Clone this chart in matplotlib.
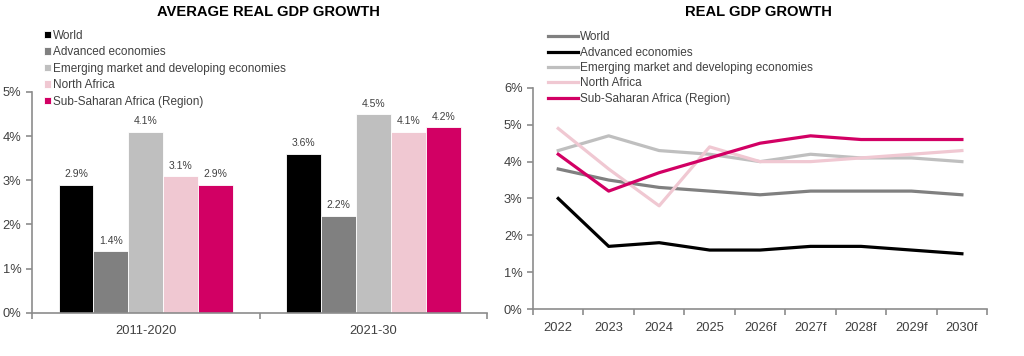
import numpy as np
import matplotlib.pyplot as plt

plt.rcParams['font.family'] = ['Liberation Sans', 'DejaVu Sans']

series = ['World', 'Advanced economies', 'Emerging market and developing economies',
          'North Africa', 'Sub-Saharan Africa (Region)']
bar_colors = ['#000000', '#808080', '#BFBFBF', '#F0C8D2', '#D20064']
line_colors = ['#808080', '#000000', '#BFBFBF', '#F0C8D2', '#D20064']

periods = ['2011-2020', '2021-30']
avg_growth = [
    [2.9, 3.6],
    [1.4, 2.2],
    [4.1, 4.5],
    [3.1, 4.1],
    [2.9, 4.2],
]

years = ['2022', '2023', '2024', '2025', '2026f', '2027f', '2028f', '2029f', '2030f']
world = [3.8, 3.5, 3.3, 3.2, 3.1, 3.2, 3.2, 3.2, 3.1]
advanced = [3.0, 1.7, 1.8, 1.6, 1.6, 1.7, 1.7, 1.6, 1.5]
emerging = [4.3, 4.7, 4.3, 4.2, 4.0, 4.2, 4.1, 4.1, 4.0]
north_africa = [4.9, 3.8, 2.8, 4.4, 4.0, 4.0, 4.1, 4.2, 4.3]
ssa = [4.2, 3.2, 3.7, 4.1, 4.5, 4.7, 4.6, 4.6, 4.6]
lines = [world, advanced, emerging, north_africa, ssa]

spine_col = '#8C8C8C'
text_col = '#404040'

fig = plt.figure(figsize=(10.24, 3.56), dpi=100)


def style_axes(ax):
    ax.spines['top'].set_visible(False)
    ax.spines['right'].set_visible(False)
    for s in ['left', 'bottom']:
        ax.spines[s].set_color(spine_col)
        ax.spines[s].set_linewidth(1.2)
    ax.tick_params(axis='y', colors=spine_col, labelcolor=text_col, labelsize=9.3,
                   length=4, width=1.2)
    ax.tick_params(axis='x', which='major', colors=spine_col, length=4, width=1.2)
    ax.tick_params(axis='x', which='minor', length=0, labelcolor=text_col, labelsize=9.3, pad=9)
    ax.yaxis.set_major_formatter(plt.FuncFormatter(lambda v, p: f'{v:.0f}%'))


# left: bar chart
ax1 = fig.add_axes([0.031, 0.121, 0.445, 0.621])
x = np.arange(len(periods))
w = 0.153
for i, (name, vals) in enumerate(zip(series, avg_growth)):
    pos = x + (i - 2) * w
    ax1.bar(pos, vals, w, color=bar_colors[i], edgecolor='white', linewidth=0.6, label=name)
    for px, v in zip(pos, vals):
        ax1.text(px, v + 0.12, f'{v:.1f}%', ha='center', va='bottom', fontsize=7.5, color=text_col)
ax1.set_xlim(-0.5, 1.5)
ax1.set_ylim(0, 5)
ax1.set_yticks(range(0, 6))
ax1.set_xticks([-0.5, 0.5, 1.5])
ax1.set_xticklabels([])
ax1.set_xticks(x, minor=True)
ax1.set_xticklabels(periods, minor=True)
style_axes(ax1)
fig.text(0.262, 0.965, 'AVERAGE REAL GDP GROWTH', ha='center', va='center',
         fontsize=10.6, fontweight='bold')
fig.legend(*ax1.get_legend_handles_labels(), loc='upper left', bbox_to_anchor=(0.038, 0.93),
           frameon=False, fontsize=8.5, handlelength=0.6, handleheight=0.6, handletextpad=0.2,
           labelspacing=0.38, borderaxespad=0, labelcolor=text_col)

# right: line chart
ax2 = fig.add_axes([0.5205, 0.132, 0.4435, 0.621])
xs = np.arange(len(years))
for name, vals, c in zip(series, lines, line_colors):
    ax2.plot(xs, vals, color=c, linewidth=2.3, label=name)
ax2.set_xlim(-0.5, len(years) - 0.5)
ax2.set_ylim(0, 6)
ax2.set_yticks(range(0, 7))
ax2.set_xticks(np.arange(-0.5, len(years)))
ax2.set_xticklabels([])
ax2.set_xticks(xs, minor=True)
ax2.set_xticklabels(years, minor=True)
style_axes(ax2)
fig.text(0.741, 0.965, 'REAL GDP GROWTH', ha='center', va='center',
         fontsize=10.6, fontweight='bold')
fig.legend(*ax2.get_legend_handles_labels(), loc='upper left', bbox_to_anchor=(0.531, 0.925),
           frameon=False, fontsize=8.5, handlelength=2.5, handletextpad=0.15,
           labelspacing=0.28, borderaxespad=0, labelcolor=text_col)

fig.savefig('out.png', dpi=100)
